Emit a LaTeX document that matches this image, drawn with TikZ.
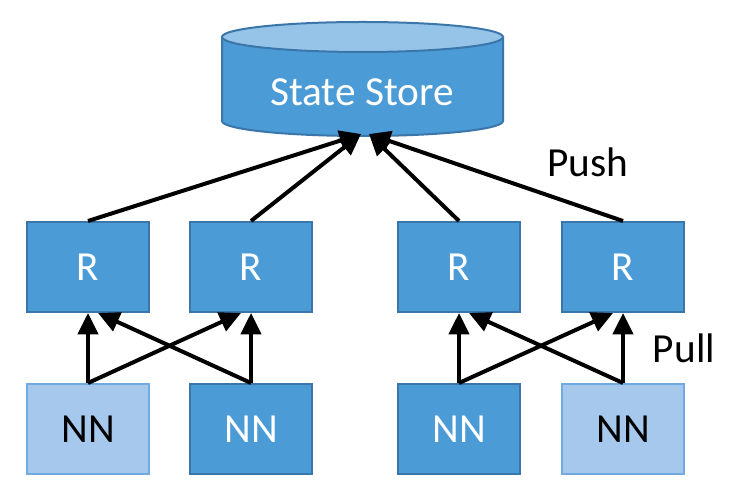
\documentclass[tikz,border=0pt]{standalone}
\usepackage{fontspec}
\setmainfont{Carlito}
\usepackage{tikz}
\usetikzlibrary{arrows.meta}
\definecolor{boxBlue}{RGB}{75, 155, 215}
\definecolor{boxEdge}{RGB}{58, 118, 170}
\definecolor{boxLight}{RGB}{165, 200, 236}
\definecolor{lightEdge}{RGB}{112, 170, 224}
\definecolor{topBlue}{RGB}{150, 196, 232}

\begin{document}
\begin{tikzpicture}[x=0.75pt, y=-0.75pt,
    rbox/.style={draw=boxEdge, fill=boxBlue, line width=1.5pt, minimum width=91.5pt,
      minimum height=67.5pt, text=white, font=\fontsize{31}{37}\selectfont},
    nnbox/.style={rbox, draw=lightEdge, fill=boxLight, text=black},
    lbl/.style={font=\fontsize{31}{37}\selectfont},
    arr/.style={line width=3pt, -{Triangle[length=16pt, width=15pt]}}]
        \useasboundingbox (0,0) rectangle (730,491);
        % state store
        \fill[boxBlue] (222,37) -- (222,121)
          arc[start angle=180, end angle=360, x radius=105.4pt, y radius=11.25pt] -- (503,37) -- cycle;
        \draw[boxEdge, line width=1.5pt] (222,37) -- (222,121)
          arc[start angle=180, end angle=360, x radius=105.4pt, y radius=11.25pt] -- (503,37);
        \filldraw[fill=topBlue, draw=boxEdge, line width=1.5pt] (362.5,37) ellipse [x radius=105.4pt, y radius=11.25pt];
        \node[lbl, text=white] (store) at (362,92) {State Store};
        \coordinate (inL) at (361,134);
        \coordinate (inR) at (369,134);
        % replicas
        \node[rbox] (r1) at (88,267) {R};
        \node[rbox] (r2) at (251,267) {R};
        \node[rbox] (r3) at (459,267) {R};
        \node[rbox] (r4) at (623,267) {R};
        % name nodes
        \node[nnbox] (nn1) at (88,429) {NN};
        \node[rbox] (nn2) at (251,429) {NN};
        \node[rbox] (nn3) at (459,429) {NN};
        \node[nnbox] (nn4) at (623,429) {NN};
        % push
        \draw[arr] (r1.north) -- (inL);
        \draw[arr] (r2.north) -- (inL);
        \draw[arr] (r3.north) -- (inR);
        \draw[arr] (r4.north) -- (inR);
        % pull
        \draw[arr] (nn1.north) -- (r1.south);
        \draw[arr] (nn1.north) -- ([xshift=-7.5pt]r2.south);
        \draw[arr] (nn2.north) -- (r2.south);
        \draw[arr] (nn2.north) -- ([xshift=7.5pt]r1.south);
        \draw[arr] (nn3.north) -- (r3.south);
        \draw[arr] (nn3.north) -- ([xshift=-7.5pt]r4.south);
        \draw[arr] (nn4.north) -- (r4.south);
        \draw[arr] (nn4.north) -- ([xshift=7.5pt]r3.south);
        \node[lbl] (push) at (588,162) {Push};
        \node[lbl] (pull) at (684,348) {Pull};
      \end{tikzpicture}
\end{document}
